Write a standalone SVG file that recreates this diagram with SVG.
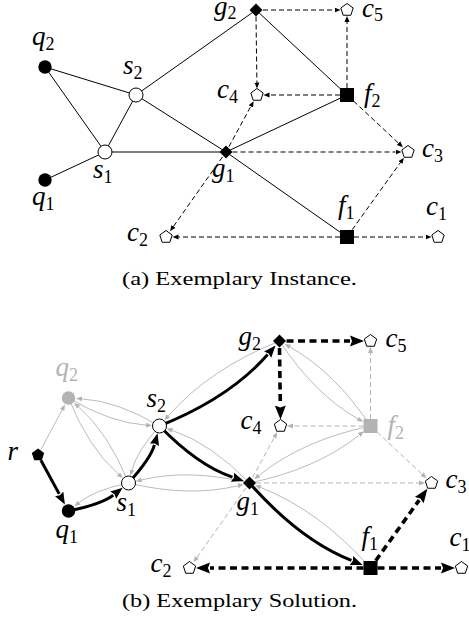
<svg xmlns="http://www.w3.org/2000/svg" width="469" height="633" viewBox="0 0 469 633">
<defs>
<style>
.lbl{font-family:"Liberation Serif",serif;font-style:italic;font-size:27px;fill:#000}
.sub{font-style:normal;font-size:18px}
.glbl{fill:#b3b3b3}
.cap{font-family:"Liberation Serif",serif;font-size:19px;fill:#000}
.e{stroke:#000;stroke-width:1;fill:none}
.d{stroke:#000;stroke-width:1;fill:none;stroke-dasharray:5 3}
.gd{stroke:#b3b3b3;stroke-width:1;fill:none;stroke-dasharray:5 3}
.ga{stroke:#b3b3b3;stroke-width:0.9;fill:none}
.ba{stroke:#000;stroke-width:3;fill:none}
.bd{stroke:#000;stroke-width:3.6;fill:none;stroke-dasharray:7 4.5}
.blk{fill:#000}
.gry{fill:#b3b3b3}
.open{fill:#fff;stroke:#000;stroke-width:1}
</style>
<marker id="ah" markerUnits="userSpaceOnUse" viewBox="0 0 8 8" markerWidth="8" markerHeight="8" refX="0" refY="4" orient="auto"><path d="M0,1.5 L6,4 L0,6.5 z" fill="#000"/></marker>
<marker id="ahg" markerUnits="userSpaceOnUse" viewBox="0 0 8 8" markerWidth="8" markerHeight="8" refX="0" refY="4" orient="auto"><path d="M0,1.5 L6,4 L0,6.5 z" fill="#b3b3b3"/></marker>
<marker id="bs" markerUnits="userSpaceOnUse" viewBox="0 0 13 10" markerWidth="13" markerHeight="10" refX="0" refY="5" orient="auto"><path d="M0,0.25 L12,5 L0,9.75 L1.5,5 z" fill="#000"/></marker>
<marker id="bh" markerUnits="userSpaceOnUse" viewBox="0 0 15 12" markerWidth="15" markerHeight="12" refX="0" refY="6" orient="auto"><path d="M0,0.5 L14,6 L0,11.5 L2,6 z" fill="#000"/></marker>
<polygon id="pent" points="0,-6.5 6.18,-2.01 3.82,5.26 -3.82,5.26 -6.18,-2.01"/>
<polygon id="dia" points="0,-6.5 6.5,0 0,6.5 -6.5,0"/>
</defs>

<!-- (a) Exemplary Instance -->
<g id="instance">
<g id="edges-a">
<path class="e" d="M45,67 L136,95"/>
<path class="e" d="M45,67 L105,152"/>
<path class="e" d="M45,180 L105,152"/>
<path class="e" d="M105,152 L136,95"/>
<path class="e" d="M105,152 L226,152"/>
<path class="e" d="M136,95 L256,10"/>
<path class="e" d="M136,95 L226,152"/>
<path class="e" d="M256,10 L347,95"/>
<path class="e" d="M226,152 L347,95"/>
<path class="e" d="M226,152 L347,237"/>
<path class="d" marker-end="url(#ah)" d="M263,10 L334.5,10"/>
<path class="d" marker-end="url(#ah)" d="M256,16.5 L256.9,82.5"/>
<path class="d" marker-end="url(#ah)" d="M347,88 L347,22"/>
<path class="d" marker-end="url(#ah)" d="M340,95 L269.5,95"/>
<path class="d" marker-end="url(#ah)" d="M353.6,101.1 L398.5,143.1"/>
<path class="d" marker-end="url(#ah)" d="M228.9,146.7 L250.8,106.4"/>
<path class="d" marker-end="url(#ah)" d="M232.5,152 L395.5,152"/>
<path class="d" marker-end="url(#ah)" d="M222.5,156.9 L173.5,226.4"/>
<path class="d" marker-end="url(#ah)" d="M340,237 L178.5,237"/>
<path class="d" marker-end="url(#ah)" d="M354,237 L425.5,237"/>
<path class="d" marker-end="url(#ah)" d="M352.2,229.7 L400.4,162.6"/>
</g>
<g id="a-q2"><circle class="blk" cx="45" cy="67" r="6.7"/><text class="lbl" x="32" y="45">q<tspan class="sub" dy="5">2</tspan></text></g>
<g id="a-q1"><circle class="blk" cx="45" cy="180" r="6.7"/><text class="lbl" x="32" y="205">q<tspan class="sub" dy="5">1</tspan></text></g>
<g id="a-s1"><circle class="open" cx="105" cy="152" r="7"/><text class="lbl" x="93" y="178">s<tspan class="sub" dy="5">1</tspan></text></g>
<g id="a-s2"><circle class="open" cx="136" cy="95" r="7"/><text class="lbl" x="123" y="74">s<tspan class="sub" dy="5">2</tspan></text></g>
<g id="a-g1"><use href="#dia" class="blk" x="226" y="152"/><text class="lbl" x="212" y="177">g<tspan class="sub" dy="5">1</tspan></text></g>
<g id="a-g2"><use href="#dia" class="blk" x="256" y="10"/><text class="lbl" x="214" y="15">g<tspan class="sub" dy="4">2</tspan></text></g>
<g id="a-c5"><use href="#pent" class="open" x="347" y="10"/><text class="lbl" x="362" y="17">c<tspan class="sub" dy="4">5</tspan></text></g>
<g id="a-c4"><use href="#pent" class="open" x="257" y="95"/><text class="lbl" x="217" y="98">c<tspan class="sub" dy="5">4</tspan></text></g>
<g id="a-f2"><rect class="blk" x="340" y="88" width="14" height="14"/><text class="lbl" x="364" y="102">f<tspan class="sub" dy="5">2</tspan></text></g>
<g id="a-c3"><use href="#pent" class="open" x="408" y="152"/><text class="lbl" x="422" y="157">c<tspan class="sub" dy="5">3</tspan></text></g>
<g id="a-f1"><rect class="blk" x="340" y="230" width="14" height="14"/><text class="lbl" x="338" y="214">f<tspan class="sub" dy="5">1</tspan></text></g>
<g id="a-c1"><use href="#pent" class="open" x="438" y="237"/><text class="lbl" x="426" y="215">c<tspan class="sub" dy="5">1</tspan></text></g>
<g id="a-c2"><use href="#pent" class="open" x="166" y="237"/><text class="lbl" x="127" y="241">c<tspan class="sub" dy="5">2</tspan></text></g>
<text class="cap" x="122" y="285" textLength="235" lengthAdjust="spacingAndGlyphs">(a) Exemplary Instance.</text>
</g>

<!-- (b) Exemplary Solution -->
<g id="solution" transform="translate(23.5,331)">
<g id="edges-b">
<path class="ga" marker-end="url(#ahg)" d="M136,95 Q93.86,70.08 58.47,67.85"/>
<path class="ga" marker-end="url(#ahg)" d="M45,67 Q87.14,91.92 122.53,94.15"/>
<path class="ga" marker-end="url(#ahg)" d="M45,67 Q64.8,116.7 94.86,143.09"/>
<path class="ga" marker-end="url(#ahg)" d="M105,152 Q85.2,102.3 55.14,75.91"/>
<path class="ga" marker-end="url(#ahg)" d="M136,95 Q113.66,119.78 108.5,138.96"/>
<path class="ga" marker-end="url(#ahg)" d="M105,152 Q71.64,158.8 55.56,171.59"/>
<path class="ga" marker-end="url(#ahg)" d="M105,152 Q165.5,166.52 214.33,154.8"/>
<path class="ga" marker-end="url(#ahg)" d="M226,152 Q165.5,137.48 118.13,148.85"/>
<path class="ga" marker-end="url(#ahg)" d="M226,152 Q187.84,112.7 148.78,99.36"/>
<path class="ga" marker-end="url(#ahg)" d="M256,10 Q185.8,38.1 144.89,84.84"/>
<path class="ga" marker-end="url(#ahg)" d="M256,10 Q291.3,63.42 334.39,87.85"/>
<path class="ga" marker-end="url(#ahg)" d="M347,95 Q311.7,41.58 266.44,15.92"/>
<path class="ga" marker-end="url(#ahg)" d="M226,152 Q293.34,138.02 335.69,104.07"/>
<path class="ga" marker-end="url(#ahg)" d="M347,95 Q279.66,108.98 235.36,144.49"/>
<path class="ga" marker-end="url(#ahg)" d="M347,237 Q296.7,179.98 237.16,156.42"/>
<path class="ga" marker-end="url(#ahg)" d="M17.33,118.71 L38.63,78.9"/>
<path class="gd" marker-end="url(#ahg)" d="M347,88 L347,22"/>
<path class="gd" marker-end="url(#ahg)" d="M340,95 L269.5,95"/>
<path class="gd" marker-end="url(#ahg)" d="M353.6,101.1 L398.5,143.1"/>
<path class="gd" marker-end="url(#ahg)" d="M228.9,146.7 L250.8,106.4"/>
<path class="gd" marker-end="url(#ahg)" d="M232.5,152 L395.5,152"/>
<path class="gd" marker-end="url(#ahg)" d="M222.5,156.9 L173.5,226.4"/>
<path class="ba" marker-end="url(#bs)" d="M17.37,129.27 L35.67,162.88"/>
<path class="ba" marker-end="url(#bs)" d="M45,180 Q78.36,173.2 89.74,164.14"/>
<path class="ba" marker-end="url(#bs)" d="M105,152 Q127.34,127.22 130.94,113.83"/>
<path class="ba" marker-end="url(#bs)" d="M136,95 Q206.2,66.9 244.15,23.54"/>
<path class="ba" marker-end="url(#bs)" d="M136,95 Q174.16,134.3 208.97,146.18"/>
<path class="ba" marker-end="url(#bs)" d="M226,152 Q276.3,209.02 327.94,229.46"/>
<path class="bd" marker-end="url(#bh)" d="M263,10 L326.5,10"/>
<path class="bd" marker-end="url(#bh)" d="M256,17 L256.8,74.5"/>
<path class="bd" marker-end="url(#bh)" d="M340,237 L186.5,237"/>
<path class="bd" marker-end="url(#bh)" d="M354,237 L417.5,237"/>
<path class="bd" marker-end="url(#bh)" d="M352.2,229.7 L395.7,169.1"/>
</g>
<g id="b-r"><use href="#pent" class="blk" x="14.5" y="124"/><text class="lbl" x="-16" y="129">r</text></g>
<g id="b-q2"><circle class="gry" cx="45" cy="67" r="6.7"/><text class="lbl glbl" x="32" y="45">q<tspan class="sub" dy="5">2</tspan></text></g>
<g id="b-q1"><circle class="blk" cx="45" cy="180" r="6.7"/><text class="lbl" x="32" y="207">q<tspan class="sub" dy="5">1</tspan></text></g>
<g id="b-s1"><circle class="open" cx="105" cy="152" r="7"/><text class="lbl" x="93" y="180">s<tspan class="sub" dy="5">1</tspan></text></g>
<g id="b-s2"><circle class="open" cx="136" cy="95" r="7"/><text class="lbl" x="123" y="76">s<tspan class="sub" dy="5">2</tspan></text></g>
<g id="b-g1"><use href="#dia" class="blk" x="226" y="152"/><text class="lbl" x="213" y="179">g<tspan class="sub" dy="5">1</tspan></text></g>
<g id="b-g2"><use href="#dia" class="blk" x="256" y="10"/><text class="lbl" x="215" y="14">g<tspan class="sub" dy="5">2</tspan></text></g>
<g id="b-c5"><use href="#pent" class="open" x="347" y="10"/><text class="lbl" x="362" y="16">c<tspan class="sub" dy="5">5</tspan></text></g>
<g id="b-c4"><use href="#pent" class="open" x="257" y="95"/><text class="lbl" x="217" y="98">c<tspan class="sub" dy="5">4</tspan></text></g>
<g id="b-f2"><rect class="gry" x="340" y="88" width="14" height="14"/><text class="lbl glbl" x="364" y="103">f<tspan class="sub" dy="5">2</tspan></text></g>
<g id="b-c3"><use href="#pent" class="open" x="408" y="152"/><text class="lbl" x="422" y="157">c<tspan class="sub" dy="5">3</tspan></text></g>
<g id="b-f1"><rect class="blk" x="340" y="230" width="14" height="14"/><text class="lbl" x="338" y="214">f<tspan class="sub" dy="5">1</tspan></text></g>
<g id="b-c1"><use href="#pent" class="open" x="438" y="237"/><text class="lbl" x="426" y="215">c<tspan class="sub" dy="5">1</tspan></text></g>
<g id="b-c2"><use href="#pent" class="open" x="166" y="237"/><text class="lbl" x="127" y="241">c<tspan class="sub" dy="5">2</tspan></text></g>
</g>
<text id="cap-b" class="cap" x="122" y="607" textLength="235" lengthAdjust="spacingAndGlyphs">(b) Exemplary Solution.</text>
</svg>
